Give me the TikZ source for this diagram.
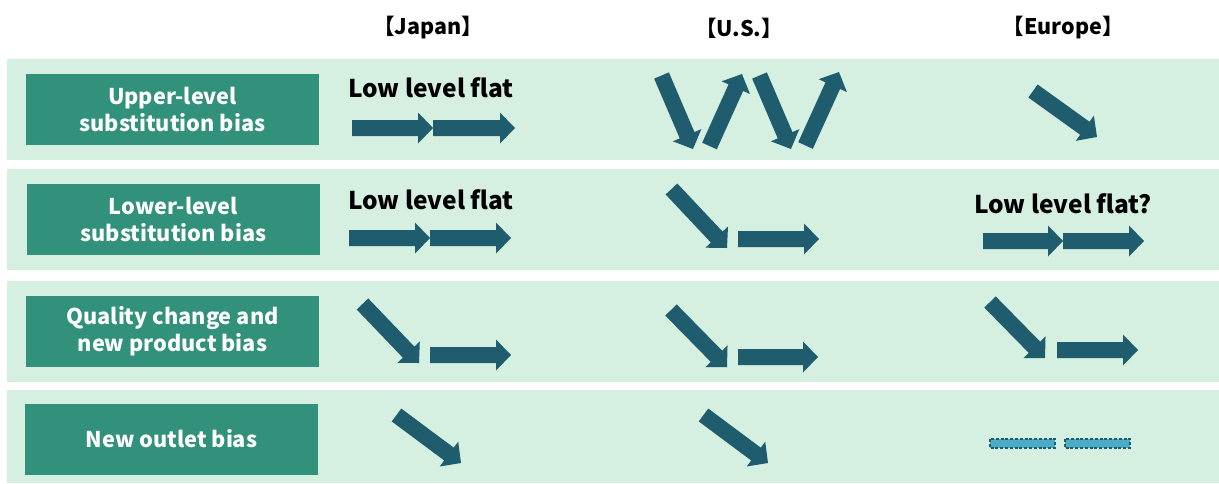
\documentclass[tikz,border=0pt]{standalone}
\usepackage{fontspec}
\setmainfont{Noto Sans CJK JP}
\usetikzlibrary{calc}
\definecolor{bandc}{HTML}{D5F0E1}
\definecolor{boxc}{HTML}{31917A}
\definecolor{arrc}{HTML}{1F5C6E}
\definecolor{dashc}{HTML}{4BACC6}
\tikzset{
  band/.style={fill=bandc, draw=none},
  labelbox/.style={fill=boxc, draw=none, text=white, align=center, minimum width=293pt, minimum height=71pt, inner sep=0pt, font=\bfseries\fontsize{21.7}{27}\selectfont},
  header/.style={font=\bfseries\fontsize{21.5}{24}\selectfont, inner sep=0pt},
  flat/.style={font=\bfseries\fontsize{24.5}{26}\selectfont, inner sep=0pt},
  dashbox/.style={fill=dashc, draw=arrc, line width=1.2pt, dash pattern=on 3pt off 1.8pt}
}
\newcommand\blockarrow[2]{%
  \coordinate (bah) at ($(#2)!15pt!(#1)$);
  \fill[arrc] ($(#1)!8pt!90:(#2)$) -- ($(bah)!8pt!-90:(#1)$) -- ($(bah)!15.5pt!-90:(#1)$) -- (#2)
    -- ($(bah)!15.5pt!90:(#1)$) -- ($(bah)!8pt!90:(#1)$) -- ($(#1)!8pt!-90:(#2)$) -- cycle;
}
\begin{document}
\begin{tikzpicture}[x=1pt,y=-1pt]
\useasboundingbox (0,0) rectangle (1219,483);
% bands
\fill[band] (7,59) rectangle (1219,160);
\fill[band] (7,169) rectangle (1219,270);
\fill[band] (7,281) rectangle (1219,382);
\fill[band] (7,390) rectangle (1219,483);
% headers
\node[header] (hJ) at (428,28) {【Japan】};
\node[header] (hU) at (739,28) {【U.S.】};
\node[header] (hE) at (1063,28) {【Europe】};
% label boxes
\node[labelbox] (b1) at (172.5,109.5) {Upper-level\\substitution bias};
\node[labelbox] (b2) at (173.5,219) {Lower-level\\substitution bias};
\node[labelbox] (b3) at (172.5,331) {Quality change and\\new product bias};
\node[labelbox] (b4) at (171.5,439) {New outlet bias};
% texts
\node[flat] (t1) at (431,88) {Low level flat};
\node[flat] (t2) at (431,200) {Low level flat};
\node[flat] (t3) at (1063,204) {Low level flat?};
% arrow coordinates
\coordinate (j1a) at (352,128); \coordinate (j1b) at (433,128); \coordinate (j1c) at (515,128);
\coordinate (u1a) at (661.5,75.5); \coordinate (u1b) at (693,149);
\coordinate (u1c) at (709.5,146); \coordinate (u1d) at (742,74);
\coordinate (u1e) at (759.5,75.5); \coordinate (u1f) at (791,149);
\coordinate (u1g) at (805.5,145.5); \coordinate (u1h) at (839,72);
\coordinate (e1a) at (1033,91); \coordinate (e1b) at (1097,137);
\coordinate (j2a) at (349,238); \coordinate (j2b) at (430,238); \coordinate (j2c) at (511,238);
\coordinate (u2a) at (671.5,189); \coordinate (u2b) at (727,248);
\coordinate (u2c) at (738,239); \coordinate (u2d) at (819,239);
\coordinate (e2a) at (983,241); \coordinate (e2b) at (1063,241); \coordinate (e2c) at (1144,241);
\coordinate (j3a) at (362.5,304); \coordinate (j3b) at (419,363);
\coordinate (j3c) at (430,355); \coordinate (j3d) at (511,355);
\coordinate (u3a) at (671,310); \coordinate (u3b) at (727,367);
\coordinate (u3c) at (738,357); \coordinate (u3d) at (818,357);
\coordinate (e3a) at (990,302); \coordinate (e3b) at (1045,358);
\coordinate (e3c) at (1057,350); \coordinate (e3d) at (1138,350);
\coordinate (j4a) at (396.5,415); \coordinate (j4b) at (461,463);
\coordinate (u4a) at (703.5,415); \coordinate (u4b) at (768,463);
% arrows
\blockarrow{j1a}{j1b} \blockarrow{j1b}{j1c}
\blockarrow{u1a}{u1b} \blockarrow{u1c}{u1d} \blockarrow{u1e}{u1f} \blockarrow{u1g}{u1h}
\blockarrow{e1a}{e1b}
\blockarrow{j2a}{j2b} \blockarrow{j2b}{j2c}
\blockarrow{u2a}{u2b} \blockarrow{u2c}{u2d}
\blockarrow{e2a}{e2b} \blockarrow{e2b}{e2c}
\blockarrow{j3a}{j3b} \blockarrow{j3c}{j3d}
\blockarrow{u3a}{u3b} \blockarrow{u3c}{u3d}
\blockarrow{e3a}{e3b} \blockarrow{e3c}{e3d}
\blockarrow{j4a}{j4b}
\blockarrow{u4a}{u4b}
% dashed boxes
\draw[dashbox] (990,439) rectangle (1055,448);
\draw[dashbox] (1065,439) rectangle (1130,448);
\end{tikzpicture}
\end{document}
